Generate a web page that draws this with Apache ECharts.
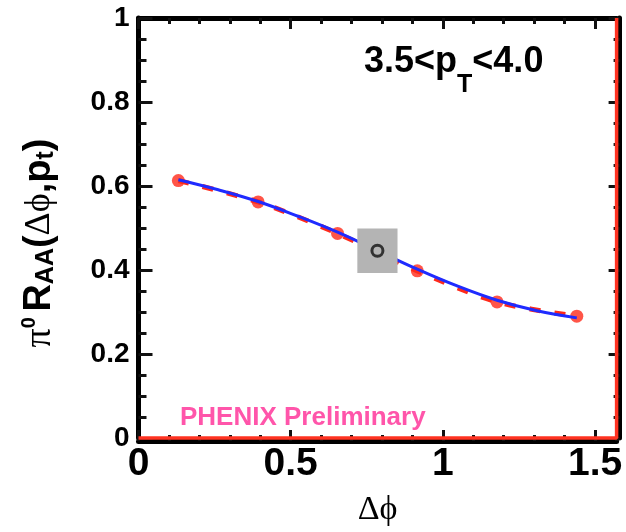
<!DOCTYPE html>
<html>
<head>
<meta charset="utf-8">
<script src="https://cdn.jsdelivr.net/npm/echarts@6/dist/echarts.min.js"></script>
<style>
  html, body { margin: 0; padding: 0; background: #fff; }
  #chart { width: 626px; height: 532px; }
</style>
</head>
<body>
<div id="chart"></div>
<script>
// Delta-phi range: 0 .. pi/2
const X_MAX = Math.PI / 2;

// pi0 R_AA per Delta-phi bin (bin centres at (2k+1)*pi/24)
const binCenters = [0.131, 0.393, 0.654, 0.916, 1.178, 1.440];
const raaValues  = [0.613, 0.562, 0.487, 0.398, 0.324, 0.290];

// blue fit curve samples
const fitX = [0.131, 0.262, 0.393, 0.524, 0.654, 0.785, 0.916, 1.047, 1.178, 1.309, 1.440];
const fitY = [0.615, 0.591, 0.563, 0.528, 0.490, 0.446, 0.402, 0.362, 0.328, 0.303, 0.286];

// angle-integrated R_AA with its systematic box
const intX = [0.785];
const intY = [0.446];
const intHalfWidth  = [0.066];
const intHalfHeight = [0.053];

// red reference line along the lower and right edges
const edgeX = [0, X_MAX, X_MAX];
const edgeY = [0, 0, 1];

// tick labels
const xTickLabels = ['0', '0.5', '1', '1.5'];
const yTickLabels = ['0', '0.2', '0.4', '0.6', '0.8', '1'];

const zip = (a, b) => a.map((v, i) => [v, b[i]]);
const labelFor = (labels, step) => (v) => {
  const i = Math.round(v / step);
  return Math.abs(v - i * step) < 1e-6 && labels[i] !== undefined ? labels[i] : '';
};

const SANS = 'Liberation Sans';
const SERIF = "'Liberation Serif', 'DejaVu Serif', serif";
const FRAME = { color: '#000', width: 5 };
const TICK = { color: '#111', width: 3 };

const chart = echarts.init(document.getElementById('chart'), null, { renderer: 'canvas' });

const xBase = { type: 'value', gridIndex: 0, min: 0, max: X_MAX, splitLine: { show: false } };
const yBase = { type: 'value', gridIndex: 0, min: 0, max: 1, interval: 0.2, splitLine: { show: false } };

chart.setOption({
  animation: false,
  backgroundColor: '#fff',
  grid: { left: 138.5, right: 9.4, top: 18, bottom: 91, containLabel: false },
  xAxis: [
    Object.assign({}, xBase, {
      position: 'bottom', offset: 3, interval: 0.5,
      axisLine: { show: true, onZero: false, lineStyle: FRAME },
      axisTick: { inside: true, length: 11, lineStyle: TICK },
      axisLabel: { formatter: labelFor(xTickLabels, 0.5), fontFamily: SANS, fontWeight: 'bold',
                   fontSize: 39, color: '#000', margin: 4 },
      name: 'Δϕ', nameLocation: 'middle', nameGap: 52,
      nameTextStyle: { fontFamily: SERIF, fontSize: 34, color: '#000' }
    }),
    Object.assign({}, xBase, {
      position: 'bottom', offset: 3, interval: 0.1,
      axisLine: { show: false, onZero: false },
      axisTick: { inside: true, length: 6, lineStyle: TICK },
      axisLabel: { show: false }
    }),
    Object.assign({}, xBase, {
      position: 'top', interval: 0.5,
      axisLine: { show: true, onZero: false, lineStyle: FRAME },
      axisTick: { inside: true, length: 11, lineStyle: TICK },
      axisLabel: { show: false }
    }),
    Object.assign({}, xBase, {
      position: 'top', interval: 0.1,
      axisLine: { show: false, onZero: false },
      axisTick: { inside: true, length: 6, lineStyle: TICK },
      axisLabel: { show: false }
    })
  ],
  yAxis: [
    Object.assign({}, yBase, {
      position: 'left',
      axisLine: { show: true, onZero: false, lineStyle: FRAME },
      axisTick: { inside: true, length: 14, lineStyle: TICK },
      minorTick: { show: true, splitNumber: 4, length: 8, lineStyle: TICK },
      axisLabel: { formatter: labelFor(yTickLabels, 0.2), fontFamily: SANS, fontWeight: 'bold',
                   fontSize: 28, color: '#000', margin: 9 }
    }),
    Object.assign({}, yBase, {
      position: 'right', offset: 3,
      axisLine: { show: true, onZero: false, lineStyle: FRAME },
      axisTick: { inside: true, length: 11, lineStyle: TICK },
      minorTick: { show: true, splitNumber: 4, length: 6, lineStyle: TICK },
      axisLabel: { show: false }
    })
  ],
  graphic: [
    {
      type: 'text', x: 40, y: 243, rotation: Math.PI / 2, z: 10,
      style: {
        text: '{pi|π}{sup|0}{sp| }{R|R}{sub|AA}{b|(}{g|Δϕ}{b|,p}{sub|t}{b|)}',
        align: 'center', verticalAlign: 'middle', fill: '#000',
        rich: {
          pi:  { fontFamily: SERIF, fontSize: 38, fill: '#000' },
          sup: { fontFamily: SANS, fontWeight: 'bold', fontSize: 20, fill: '#000', padding: [0, 0, 22, 0] },
          sp:  { fontFamily: SANS, fontSize: 20 },
          R:   { fontFamily: SANS, fontWeight: 'bold', fontSize: 38, fill: '#000' },
          sub: { fontFamily: SANS, fontWeight: 'bold', fontSize: 25, fill: '#000', padding: [12, 0, 0, 0] },
          b:   { fontFamily: SANS, fontWeight: 'bold', fontSize: 38, fill: '#000' },
          g:   { fontFamily: SERIF, fontSize: 36, fill: '#000' }
        }
      }
    },
    {
      type: 'text', x: 364, y: 62, z: 10,
      style: {
        text: '{a|3.5<p}{t|T}{a|<4.0}',
        align: 'left', verticalAlign: 'middle', fill: '#000',
        rich: {
          a: { fontFamily: SANS, fontWeight: 'bold', fontSize: 36, fill: '#000' },
          t: { fontFamily: SANS, fontWeight: 'bold', fontSize: 25, fill: '#000', padding: [46, 0, 0, 0] }
        }
      }
    },
    {
      type: 'text', x: 180, y: 418, z: 10,
      style: {
        text: 'PHENIX Preliminary',
        fontFamily: SANS, fontWeight: 'bold', fontSize: 26,
        fill: '#ff55aa', align: 'left', verticalAlign: 'middle'
      }
    }
  ],
  series: [
    {
      name: 'edge', type: 'line', xAxisIndex: 0, yAxisIndex: 0,
      data: zip(edgeX, edgeY), symbol: 'none', silent: true, z: 1, clip: false,
      lineStyle: { color: '#ff3322', width: 3.5 }
    },
    {
      name: 'raa dashed', type: 'line', xAxisIndex: 0, yAxisIndex: 0,
      data: zip(binCenters, raaValues), smooth: 0.3, symbol: 'none', z: 2,
      lineStyle: { color: '#ff2a1a', width: 5, type: [11, 14] }
    },
    {
      name: 'raa', type: 'scatter', xAxisIndex: 0, yAxisIndex: 0,
      data: zip(binCenters, raaValues), symbol: 'circle', symbolSize: 13, z: 3,
      itemStyle: { color: '#ff2a1a' }
    },
    {
      name: 'fit', type: 'line', xAxisIndex: 0, yAxisIndex: 0,
      data: zip(fitX, fitY), smooth: 0.4, symbol: 'none', z: 4,
      lineStyle: { color: '#1f2bff', width: 3 }
    },
    {
      name: 'integrated box', type: 'custom', xAxisIndex: 0, yAxisIndex: 0, z: 5,
      data: intX.map((x, i) => [x, intY[i], intHalfWidth[i], intHalfHeight[i]]),
      renderItem: (params, api) => {
        const x = api.value(0), y = api.value(1), hw = api.value(2), hh = api.value(3);
        const p0 = api.coord([x - hw, y + hh]);
        const p1 = api.coord([x + hw, y - hh]);
        return {
          type: 'rect',
          shape: { x: p0[0], y: p0[1], width: p1[0] - p0[0], height: p1[1] - p0[1] },
          style: { fill: '#b4b4b4' }
        };
      }
    },
    {
      name: 'integrated', type: 'scatter', xAxisIndex: 0, yAxisIndex: 0, z: 6,
      data: zip(intX, intY), symbol: 'circle', symbolSize: 11,
      itemStyle: { color: 'rgba(0,0,0,0)', borderColor: '#111', borderWidth: 3 }
    }
  ]
});
</script>
</body>
</html>
